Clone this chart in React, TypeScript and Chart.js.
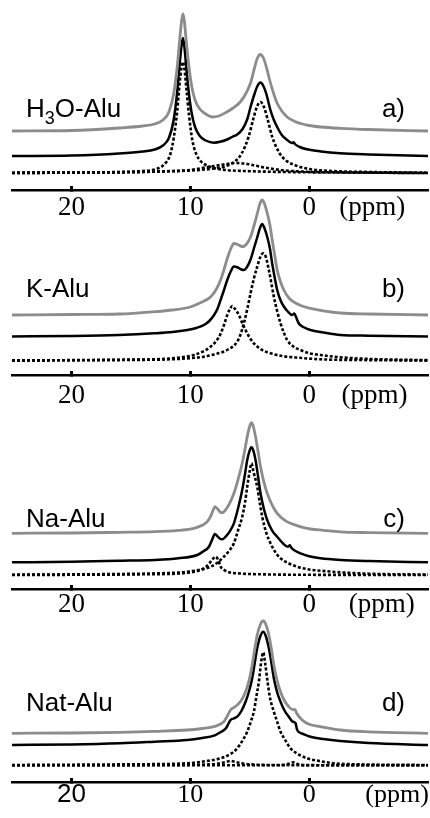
import React, { useEffect, useRef } from 'react';
import { Chart, registerables } from 'chart.js';

Chart.register(...registerables);

type Pt = [number, number];

// ---- axis ----
const ppmMin = -10;
const ppmMax = 25;
const tickValues = [20, 10, 0];
const unitLabel = '(ppm)';

// ---- labels ----
const sampleNames = ['H3O-Alu', 'K-Alu', 'Na-Alu', 'Nat-Alu'];
const panelLetters = ['a)', 'b)', 'c)', 'd)'];

// ---- panel a) H3O-Alu : [ppm, intensity a.u.] ----
const aSum: Pt[] = [[25,0],[20,0.5],[16,3],[14,5],[13,7],[12.3,11],[11.8,19],[11.4,37],[11.1,64],[10.9,90],[10.75,108],[10.62,117],[10.5,110],[10.35,91],[10.15,68],[9.9,46],[9.6,31],[9.2,22],[8.7,17],[8.15,14],[7.6,15],[7.0,18.5],[6.4,23],[5.8,29],[5.3,38],[4.93,48],[4.6,63],[4.35,73],[4.1,76.5],[3.85,73],[3.6,64],[3.3,50],[3.0,38],[2.7,28],[2.3,20],[1.85,14],[1.2,9.5],[0.7,7.5],[0,5.5],[-1,4],[-2.6,2.7],[-5,1.5],[-10,0]];
const aExp: Pt[] = [[25,0],[20,0.5],[16,2.5],[14,4.5],[13,6.5],[12.3,10.5],[11.8,18],[11.4,36],[11.1,64],[10.9,91],[10.75,109],[10.62,118],[10.5,110],[10.35,90],[10.15,66],[9.9,44],[9.6,29],[9.2,20],[8.7,15.5],[8.0,13.3],[7.4,14.5],[6.9,16.5],[6.5,19],[6.05,21.5],[5.6,27],[5.2,37],[4.93,49],[4.6,62],[4.35,70],[4.1,73.5],[3.85,70],[3.6,62],[3.26,46],[3.0,37],[2.69,29],[2.3,21],[1.85,16],[1.45,13],[1.3,13.8],[1.2,12],[0.8,9],[0.17,6.7],[-1,4.5],[-2.6,2.7],[-5,1.5],[-10,0]];
const aFit1: Pt[] = [[25,0],[16,1],[14,2],[13,3.5],[12.2,8.5],[11.7,18],[11.38,36],[11.1,62],[10.9,89],[10.75,105],[10.62,111],[10.5,105],[10.3,81],[10.1,57],[9.83,33],[9.5,19],[9.1,11.5],[8.5,7],[8.0,5],[7,3],[5,1.8],[2,1],[-2,0.5],[-10,0]];
const aFit2: Pt[] = [[25,0.3],[15,1],[10,2.5],[8,4.5],[7,7],[6.2,12],[5.7,19],[5.1,36],[4.7,54],[4.4,66],[4.1,71],[3.8,66],[3.5,54],[3.1,36],[2.5,20],[2.0,13],[1.0,7],[0,4],[-2,2],[-5,1],[-10,0.3]];
const aFit3: Pt[] = [[25,0],[14,1],[12,1.8],[10,3],[8.5,6],[7.2,8.5],[6.2,10],[5.2,9],[4.2,6.5],[3,4],[2,2.5],[0,1.2],[-5,0.4],[-10,0]];

// ---- panel b) K-Alu ----
const bSum: Pt[] = [[25,0],[20,0.5],[16,1],[13,3.3],[11.5,5],[10,8],[9.2,12],[8.3,18],[7.8,26],[7.45,35],[7.1,48],[6.85,58],[6.6,66],[6.33,71.5],[6.0,70.5],[5.63,68.3],[5.3,70.5],[4.93,78],[4.6,91],[4.37,101],[4.15,111],[3.95,115],[3.75,111],[3.53,102],[3.3,90],[3.11,75],[2.9,60],[2.69,45],[2.4,33],[2.13,25],[1.7,17],[1.29,13],[0.6,9],[-0.11,6.7],[-1.2,4.2],[-2.63,2],[-5,1],[-10,0]];
const bExp: Pt[] = [[25,0],[20,0.5],[16,1.5],[13,3.2],[11.5,4.5],[10.25,6.5],[9.5,8.5],[8.85,11.5],[8.4,15.5],[8.0,21.5],[7.7,28],[7.45,36.5],[7.15,47],[6.89,56.5],[6.6,65],[6.33,70],[6.0,69],[5.7,67],[5.49,66.5],[5.2,70],[4.93,77],[4.6,90],[4.37,99],[4.15,108],[3.95,112.5],[3.75,108],[3.53,99.8],[3.3,88],[3.11,73],[2.9,59],[2.69,46.5],[2.4,36],[2.13,30],[1.8,25],[1.43,21.5],[1.25,23],[1.12,20],[0.87,13],[0.4,9],[-0.11,6.5],[-1.2,4],[-2.63,1.5],[-5,0.8],[-10,0]];
const bFit1: Pt[] = [[25,0],[16,1],[13,1.4],[11,3],[9.69,5.7],[8.8,10],[8.29,14],[7.8,20],[7.45,27],[7.1,38],[6.89,45.7],[6.65,52],[6.47,54.7],[6.25,52],[5.91,45.7],[5.6,37],[5.35,30.7],[5.0,23],[4.65,17.4],[4.0,11],[3.25,7.4],[2.2,4.5],[1.29,3.4],[-0.95,1.4],[-5,0.6],[-10,0.2]];
const bFit2: Pt[] = [[25,0.3],[13,1],[10,2.5],[8.85,4],[7.8,7],[6.89,10.7],[6.05,19],[5.75,27],[5.49,37.4],[5.2,52],[4.93,67.4],[4.65,82],[4.37,94],[4.1,104],[3.87,107.4],[3.65,104],[3.39,90.7],[3.17,77],[2.97,64],[2.7,50],[2.41,37.4],[2.13,28],[1.85,20.7],[1.3,14],[0.73,10.7],[0,7.5],[-0.95,5.7],[-2.63,3.4],[-5,1.8],[-10,0.5]];

// ---- panel c) Na-Alu ----
const cSum: Pt[] = [[25,0],[20,0.3],[16,1],[13,1.6],[11,3],[9.69,5],[9.0,8],[8.57,11.6],[8.25,18],[8.05,24],[7.93,26.6],[7.75,25],[7.5,21.5],[7.31,20.6],[7.0,24],[6.65,31],[6.33,40],[6.0,53],[5.63,70],[5.4,84],[5.21,96.6],[5.0,107],[4.85,110.6],[4.7,107],[4.51,96.6],[4.3,82],[4.09,66.6],[3.8,51],[3.53,40],[3.1,28],[2.69,20],[2.1,13.5],[1.57,10],[0.7,6.5],[-0.11,4.3],[-1.2,3],[-2.63,1.5],[-5,0.7],[-10,0]];
const cExp: Pt[] = [[25,0],[20,0.5],[16,1.5],[13,2.3],[11,4],[9.41,7.3],[8.9,11],[8.43,15.6],[8.15,23],[7.93,28.3],[7.75,26.5],[7.5,23.5],[7.31,23],[7.0,26],[6.65,31.5],[6.33,39],[6.0,53],[5.63,72.3],[5.4,88],[5.21,102.3],[5.0,112],[4.85,115],[4.7,112],[4.51,102.3],[4.3,86],[4.09,69],[3.8,53],[3.53,42.3],[3.1,31.5],[2.69,25.6],[2.2,19],[1.8,15.5],[1.62,17],[1.5,14.5],[1.1,11],[0.73,9],[0,6],[-0.95,4],[-2.63,2.3],[-5,1.2],[-10,0]];
const cFit1: Pt[] = [[25,0.3],[16,1],[13,1.6],[10.25,3.3],[8.29,8.3],[7.7,12.5],[7.17,18.3],[6.75,24],[6.33,31.7],[6.0,44],[5.63,58.3],[5.4,72],[5.21,88.3],[5.0,104],[4.85,111.7],[4.7,104],[4.37,88.3],[4.15,72],[3.95,58.3],[3.6,42],[3.25,31.7],[2.8,22],[2.41,16.7],[1.7,11.5],[1.01,8.3],[0,5.5],[-0.95,4.3],[-2.63,2.7],[-5,1.3],[-10,0.4]];
const cFit2: Pt[] = [[25,0],[14,0.7],[11,1.5],[9.8,3],[9.13,5],[8.7,8],[8.43,11],[8.15,15.5],[7.87,18.3],[7.65,15],[7.45,8.3],[7.2,5.5],[6.89,3.3],[5.8,1.5],[4,0.7],[0,0.2],[-10,0]];

// ---- panel d) Nat-Alu ----
const dSum: Pt[] = [[25,0],[20,0.3],[15.9,1],[13,2],[10.25,3.3],[9,4.8],[8.0,6.6],[7.5,9],[7.17,11.6],[6.9,17],[6.61,23.3],[6.3,26],[6.05,28.3],[5.7,33],[5.35,41.6],[5.05,53],[4.79,68.3],[4.55,86],[4.37,98.3],[4.1,109],[3.87,112.3],[3.65,109],[3.39,98.3],[3.2,86],[2.97,68.3],[2.7,53],[2.41,41.6],[2.05,32],[1.71,26.6],[1.35,23.5],[1.2,24],[1.05,20],[0.59,13.3],[0,9],[-0.95,6.6],[-2.63,3.3],[-5,1.5],[-10,0]];
const dExp: Pt[] = [[25,0],[20,0.5],[15.9,1.7],[13,3.3],[10.25,5],[9,7],[8.0,9.3],[7.5,12.5],[7.0,16.7],[6.8,21],[6.61,25],[6.35,26.5],[6.05,28.3],[5.7,34],[5.35,43.3],[5.05,54],[4.79,66.7],[4.55,84],[4.37,96.7],[4.1,109],[3.87,113.3],[3.65,109],[3.39,96.7],[3.2,84],[2.97,66.7],[2.7,53],[2.41,43.3],[2.05,34],[1.71,28.3],[1.45,24],[1.3,23],[1.15,22],[1.01,15],[0.5,11],[-0.11,8.3],[-1.2,6],[-2.63,4],[-5,2],[-10,0]];
const dFit1: Pt[] = [[25,0.3],[15,1],[10.25,2],[8.5,4.5],[7.45,7],[6.6,11.5],[6.05,17],[5.6,25],[5.21,33.6],[4.9,44],[4.65,53.6],[4.45,68],[4.23,83.6],[4.05,102],[3.87,113],[3.7,102],[3.5,83.6],[3.3,68],[2.97,53.6],[2.7,44],[2.41,33.6],[2.0,25],[1.57,17],[0.9,11],[0.17,7],[-1,4],[-2.1,2],[-5,0.8],[-10,0.3]];
const dFit2: Pt[] = [[25,0],[10,0.5],[8.2,1],[7.5,2],[7,3.3],[6.61,4.3],[6.2,3.3],[5.7,2],[5,1],[3,0.3],[-10,0]];
const dFit3: Pt[] = [[25,0],[3,0],[2,0.5],[1.6,2],[1.35,3],[1.1,2],[0.8,0.5],[0,0],[-10,0]];

const sums = [aSum, bSum, cSum, dSum];
const exps = [aExp, bExp, cExp, dExp];
const fits = [[aFit1, aFit2, aFit3], [bFit1, bFit2], [cFit1, cFit2], [dFit1, dFit2, dFit3]];

// ---- layout / style (not data) ----
interface PanelLayout {
  top: number; axis: number; sumBase: number; expBase: number; fitBase: number;
  labelY: number; unitAt: number; tickSize: number; tickPad: number; sans20: boolean;
}
const LAYOUT: PanelLayout[] = [
  { top: 0, axis: 190, sumBase: 59, expBase: 34, fitBase: 17, labelY: 117, unitAt: -5.3, tickSize: 27, tickPad: 6, sans20: false },
  { top: 195, axis: 375, sumBase: 60, expBase: 38.5, fitBase: 14.3, labelY: 297, unitAt: -5.5, tickSize: 27, tickPad: 9, sans20: false },
  { top: 410, axis: 589, sumBase: 55.7, expBase: 26.7, fitBase: 14, labelY: 527, unitAt: -6.1, tickSize: 27, tickPad: 3.5, sans20: false },
  { top: 612, axis: 782, sumBase: 48.7, expBase: 37, fitBase: 16.7, labelY: 711, unitAt: -7.4, tickSize: 26, tickPad: 1.5, sans20: true },
];
const SCALE_H = 45;
const W = 430;

function toXY(pts: Pt[], base: number) {
  return pts.map(([x, v]) => ({ x, y: v + base }));
}

function Panel({ idx }: { idx: number }) {
  const ref = useRef<HTMLCanvasElement | null>(null);
  const L = LAYOUT[idx];
  const h = L.axis - L.top + SCALE_H;
  useEffect(() => {
    if (!ref.current) return;
    const labelPlugin = {
      id: 'panelLabels',
      afterDraw(chart: any) {
        const ctx = chart.ctx as CanvasRenderingContext2D;
        const y = L.labelY - L.top;
        ctx.save();
        ctx.fillStyle = '#000';
        ctx.textBaseline = 'alphabetic';
        ctx.textAlign = 'left';
        const big = '26px "Liberation Sans", Arial, sans-serif';
        const small = '18px "Liberation Sans", Arial, sans-serif';
        const name = sampleNames[idx];
        let x = 26;
        if (idx === 0) {
          ctx.font = big; ctx.fillText('H', x, y); x += ctx.measureText('H').width;
          ctx.font = small; ctx.fillText('3', x, y + 7); x += ctx.measureText('3').width;
          ctx.font = big; ctx.fillText(name.slice(2), x, y);
        } else {
          ctx.font = big; ctx.fillText(name, x, y);
        }
        ctx.font = big;
        ctx.textAlign = 'right';
        ctx.fillText(panelLetters[idx], 405, y);
        ctx.restore();
      },
    };
    const fitSets = fits[idx].map((f) => ({
      data: toXY(f, L.fitBase),
      borderColor: '#000',
      borderWidth: 2.6,
      borderDash: [3, 2],
    }));
    const chart = new Chart(ref.current, {
      type: 'line',
      data: {
        datasets: [
          { data: toXY(sums[idx], L.sumBase), borderColor: '#8c8c8c', borderWidth: 2.8 },
          { data: toXY(exps[idx], L.expBase), borderColor: '#000', borderWidth: 2.5 },
          ...fitSets,
        ] as any,
      },
      options: {
        animation: false,
        responsive: false,
        maintainAspectRatio: false,
        elements: {
          point: { radius: 0 },
          line: { cubicInterpolationMode: 'monotone', fill: false } as any,
        },
        layout: { padding: { left: 12, right: 2, top: 0, bottom: 0 } },
        plugins: { legend: { display: false }, tooltip: { enabled: false } },
        scales: {
          x: {
            type: 'linear',
            min: ppmMin,
            max: ppmMax,
            reverse: true,
            afterBuildTicks: (s: any) => {
              s.ticks = [...tickValues.map((v) => ({ value: v })), { value: L.unitAt }];
            },
            afterFit: (s: any) => {
              s.height = SCALE_H;
              s.paddingLeft = 0;
              s.paddingRight = 0;
            },
            border: { display: true, color: '#000', width: 2.6 },
            grid: {
              drawOnChartArea: false,
              tickLength: -4,
              tickWidth: 3,
              tickColor: (c: any) => (c.tick && c.tick.value < -1 ? 'rgba(0,0,0,0)' : '#000'),
            },
            ticks: {
              padding: L.tickPad,
              color: '#000',
              maxRotation: 0,
              autoSkip: false,
              font: (c: any) => ({
                family: L.sans20 && c.tick && c.tick.value === 20 ? '"Liberation Sans", Arial, sans-serif' : '"Liberation Serif", "Times New Roman", serif',
                size: L.tickSize,
              }),
              callback: (v: any) => (Number(v) < -1 ? unitLabel : String(v)),
            },
          } as any,
          y: { display: false, min: 0, max: L.axis - L.top },
        },
      },
      plugins: [labelPlugin],
    });
    return () => chart.destroy();
  }, [idx]);
  return (
    <canvas
      ref={ref}
      width={W}
      height={h}
      style={{ position: 'absolute', left: 0, top: L.top, width: W, height: h }}
    />
  );
}

export default function App() {
  return (
    <div style={{ position: 'fixed', left: 0, top: 0, width: 430, height: 818, overflow: 'hidden', background: '#fff' }}>
      {LAYOUT.map((_, i) => (
        <Panel key={i} idx={i} />
      ))}
    </div>
  );
}
